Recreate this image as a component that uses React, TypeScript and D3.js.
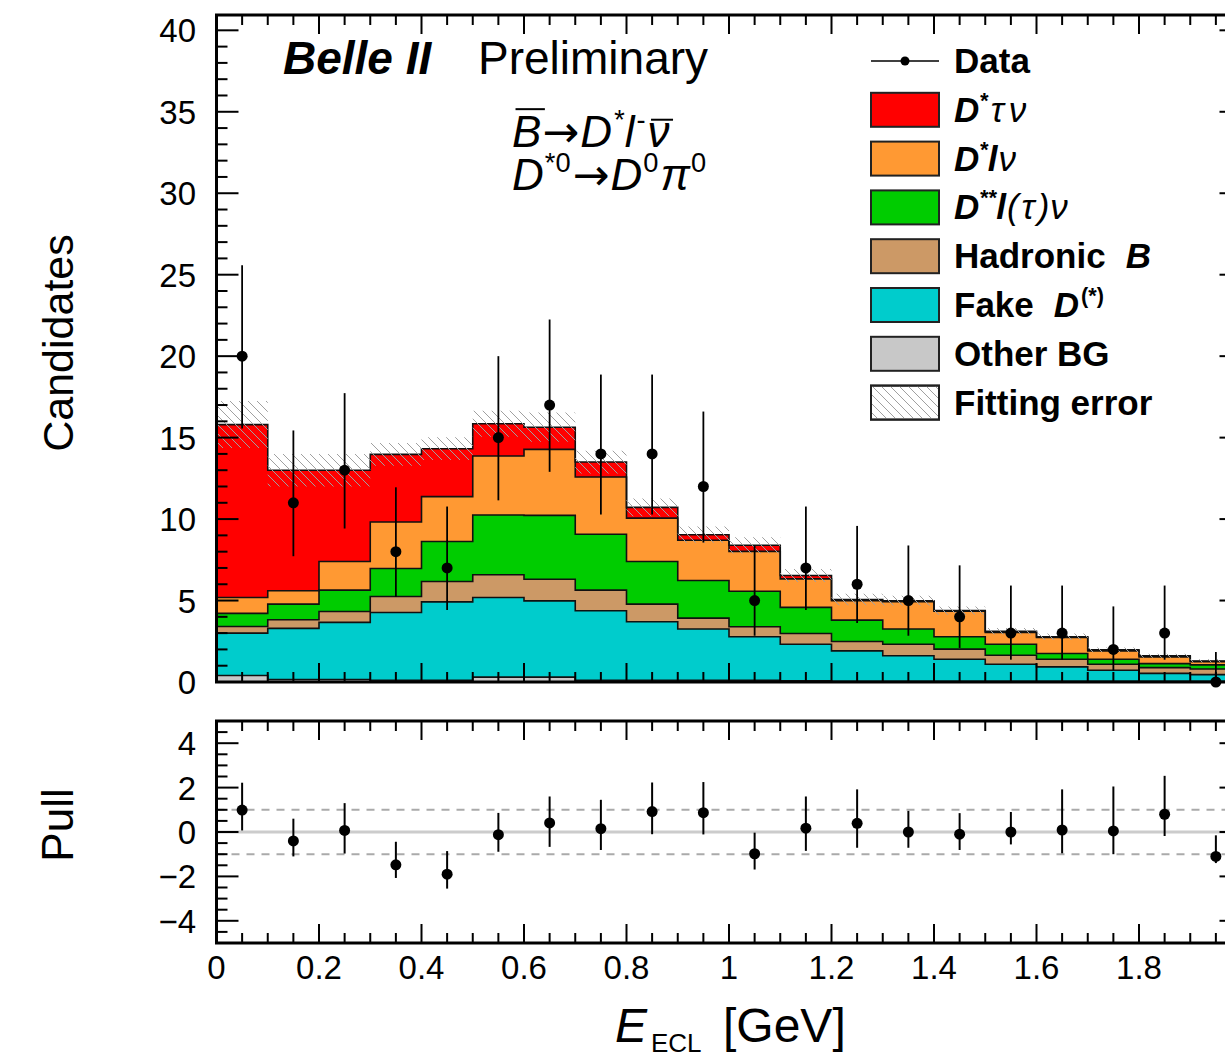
import React, { useEffect, useRef } from 'react';
import * as d3 from 'd3';

// bins of E_ECL [GeV]
const binCenters = [0.05, 0.15, 0.25, 0.35, 0.45, 0.55, 0.65, 0.75, 0.85, 0.95,
  1.05, 1.15, 1.25, 1.35, 1.45, 1.55, 1.65, 1.75, 1.85, 1.95];
const binWidth = 0.1;

// observed candidates and Poisson errors
const dataCounts = [20, 11, 13, 8, 7, 15, 17, 14, 14, 12, 5, 7, 6, 5, 4, 3, 3, 2, 3, 0];
const dataErrLow = [4.44, 3.28, 3.58, 2.77, 2.58, 3.85, 4.1, 3.72, 3.72, 3.44, 2.16, 2.58, 2.38, 2.16, 1.91, 1.63, 1.63, 1.29, 1.63, 0];
const dataErrHigh = [5.58, 4.44, 4.73, 3.95, 3.77, 5.0, 5.25, 4.87, 4.87, 4.6, 3.38, 3.77, 3.58, 3.38, 3.16, 2.92, 2.92, 2.64, 2.92, 1.84];

// fitted components (bottom to top of the stack)
const otherBG = [0.4, 0.15, 0.15, 0.1, 0.1, 0.3, 0.3, 0.1, 0.1, 0.1, 0.1, 0.08, 0.05, 0.05, 0.05, 0.05, 0.05, 0.05, 0.05, 0.05];
const fakeD = [2.6, 3.14, 3.51, 4.17, 4.82, 4.89, 4.68, 4.27, 3.6, 3.15, 2.68, 2.24, 1.86, 1.56, 1.35, 1.04, 0.88, 0.67, 0.48, 0.4];
const hadronicB = [0.41, 0.53, 0.67, 0.98, 1.25, 1.39, 1.33, 1.27, 1.08, 0.67, 0.61, 0.66, 0.58, 0.71, 0.62, 0.55, 0.47, 0.37, 0.35, 0.35];
const dssLnu = [0.8, 0.96, 1.31, 1.72, 2.45, 3.67, 3.92, 3.43, 2.62, 2.31, 2.18, 1.6, 1.31, 0.93, 0.76, 0.68, 0.35, 0.31, 0.25, 0.25];
const dsLnu = [0.98, 0.82, 1.76, 2.85, 2.76, 3.62, 4.05, 3.51, 2.66, 2.47, 2.45, 1.75, 1.19, 1.68, 1.56, 0.72, 0.98, 0.51, 0.41, 0.2];
const dsTaunu = [10.61, 7.4, 5.6, 4.15, 2.94, 1.98, 1.36, 0.92, 0.66, 0.34, 0.37, 0.21, 0.07, 0.06, 0.04, 0.07, 0.05, 0.06, 0.07, 0.04];
const fitErr = [1.44, 1.0, 1.0, 0.7, 0.7, 0.8, 0.9, 0.7, 0.55, 0.5, 0.5, 0.4, 0.35, 0.3, 0.25, 0.2, 0.2, 0.15, 0.12, 0.1];

// pulls
const pullVals = [0.99, -0.4, 0.07, -1.48, -1.9, -0.12, 0.41, 0.15, 0.92, 0.87, -0.98, 0.17, 0.39, 0.0, -0.1, 0.0, 0.09, 0.05, 0.8, -1.1];
const pullErrHigh = [1.23, 1.0, 1.23, 1.04, 1.04, 0.98, 1.19, 1.3, 1.31, 1.38, 0.95, 1.43, 1.53, 0.95, 0.95, 0.9, 1.83, 2.0, 1.73, 0.95];
const pullErrLow = [0.92, 0.7, 1.04, 0.59, 0.65, 0.77, 1.08, 0.96, 1.02, 0.98, 0.71, 1.02, 1.1, 0.71, 0.71, 0.56, 1.05, 1.05, 0.98, 0.3];

const xTickLabels = ['0', '0.2', '0.4', '0.6', '0.8', '1', '1.2', '1.4', '1.6', '1.8'];
const yTickLabels = [0, 5, 10, 15, 20, 25, 30, 35, 40];
const pullTickLabels = [4, 2, 0, -2, -4];

const stackKeys = ['other', 'fake', 'had', 'dss', 'dsl', 'dst'];
const stackColors = ['#c8c8c8', '#00cccc', '#cc9966', '#00cc00', '#ff9933', '#ff0000'];

const W = 1225;
const H = 1059;
const FONT = "'Liberation Sans', Arial, Helvetica, sans-serif";

function rich(g: any, x0: number, yb: number, size: number, segs: any[]) {
  let cx = x0;
  segs.forEach((s) => {
    cx += s.dx || 0;
    const fs = s.sup || s.sub ? size * 0.62 : size;
    const yy = s.sup ? yb - size * 0.4 : s.sub ? yb + size * 0.25 : yb;
    const t = g.append('text')
      .attr('x', cx)
      .attr('y', yy)
      .attr('font-size', fs)
      .attr('font-weight', s.b ? 'bold' : 'normal')
      .attr('font-style', s.i ? 'italic' : 'normal')
      .text(s.t);
    if (s.family) t.attr('font-family', s.family);
    const w = (t.node() as SVGTextElement).getComputedTextLength();
    if (s.over) {
      const oy = yb - size * (s.over === 'low' ? 0.62 : 0.86);
      g.append('line')
        .attr('x1', cx + size * 0.08).attr('x2', cx + w + size * 0.08)
        .attr('y1', oy).attr('y2', oy)
        .attr('stroke', 'black').attr('stroke-width', 2);
    }
    cx += w;
  });
}

function drawChart(el: SVGSVGElement) {
  const svg = d3.select(el);
  svg.selectAll('*').remove();
  const root = svg.append('g').attr('font-family', FONT).attr('fill', 'black');

  const x = d3.scaleLinear().domain([0, 2]).range([216.5, 1241.5]);
  const y = d3.scaleLinear().domain([0, 40.94]).range([682, 15]);
  const yp = d3.scaleLinear().domain([-5, 5]).range([943, 721]);

  const defs = svg.append('defs');
  const pat = defs.append('pattern')
    .attr('id', 'hatch')
    .attr('patternUnits', 'userSpaceOnUse')
    .attr('width', 9).attr('height', 9);
  pat.append('path')
    .attr('d', 'M0,0 L9,9 M-1,8 L1,10 M8,-1 L10,1')
    .attr('stroke', '#a0a0a0')
    .attr('stroke-width', 1);

  const edges = [...binCenters.map((c) => c - binWidth / 2), binCenters[binCenters.length - 1] + binWidth / 2];
  const ext = (arr: any[]) => [...arr, arr[arr.length - 1]];

  const rows = binCenters.map((c, i) => ({
    other: otherBG[i], fake: fakeD[i], had: hadronicB[i], dss: dssLnu[i], dsl: dsLnu[i], dst: dsTaunu[i],
  }));
  const series = d3.stack<any>().keys(stackKeys)(rows);

  const area = d3.area<any>()
    .curve(d3.curveStepAfter)
    .x((d, i) => x(edges[i]))
    .y0((d) => y(d[0]))
    .y1((d) => y(d[1]));
  const topLine = d3.line<any>()
    .curve(d3.curveStepAfter)
    .x((d, i) => x(edges[i]))
    .y((d) => y(d[1]));

  const main = root.append('g');
  series.forEach((s, k) => {
    const pts = ext(s.map((d) => [d[0], d[1]]));
    main.append('path').attr('d', area(pts)).attr('fill', stackColors[k]).attr('stroke', 'none');
  });
  series.forEach((s) => {
    const pts = ext(s.map((d) => [d[0], d[1]]));
    main.append('path').attr('d', topLine(pts)).attr('fill', 'none').attr('stroke', '#111').attr('stroke-width', 1.6);
  });

  // fitting error band
  const totals = series[series.length - 1].map((d) => d[1]);
  const band = ext(totals.map((t, i) => [t - fitErr[i], t + fitErr[i]]));
  main.append('path').attr('d', area(band)).attr('fill', 'url(#hatch)').attr('stroke', 'none');

  // data points
  binCenters.forEach((c, i) => {
    main.append('line')
      .attr('x1', x(c)).attr('x2', x(c))
      .attr('y1', y(dataCounts[i] - dataErrLow[i])).attr('y2', y(dataCounts[i] + dataErrHigh[i]))
      .attr('stroke', 'black').attr('stroke-width', 1.8);
    main.append('circle').attr('cx', x(c)).attr('cy', y(dataCounts[i])).attr('r', 5.5).attr('fill', 'black');
  });

  // pull panel
  const pull = root.append('g');
  pull.append('line')
    .attr('x1', x(0)).attr('x2', x(2)).attr('y1', yp(0)).attr('y2', yp(0))
    .attr('stroke', '#cccccc').attr('stroke-width', 3);
  [-1, 1].forEach((v) => {
    pull.append('line')
      .attr('x1', x(0)).attr('x2', x(2)).attr('y1', yp(v)).attr('y2', yp(v))
      .attr('stroke', '#aaaaaa').attr('stroke-width', 2).attr('stroke-dasharray', '8 7');
  });
  binCenters.forEach((c, i) => {
    pull.append('line')
      .attr('x1', x(c)).attr('x2', x(c))
      .attr('y1', yp(pullVals[i] - pullErrLow[i])).attr('y2', yp(pullVals[i] + pullErrHigh[i]))
      .attr('stroke', 'black').attr('stroke-width', 2);
    pull.append('circle').attr('cx', x(c)).attr('cy', yp(pullVals[i])).attr('r', 5.5).attr('fill', 'black');
  });

  // frames and ticks
  const frame = (yTop: number, yBot: number) => {
    root.append('rect')
      .attr('x', x(0)).attr('y', yTop)
      .attr('width', x(2) - x(0)).attr('height', yBot - yTop)
      .attr('fill', 'none').attr('stroke', 'black').attr('stroke-width', 3);
    d3.range(0, 2.0001, 0.05).forEach((v) => {
      const major = Math.abs(v / 0.2 - Math.round(v / 0.2)) < 1e-6;
      const len = major ? 19 : 10;
      root.append('line').attr('x1', x(v)).attr('x2', x(v)).attr('y1', yBot).attr('y2', yBot - len)
        .attr('stroke', 'black').attr('stroke-width', 2);
      root.append('line').attr('x1', x(v)).attr('x2', x(v)).attr('y1', yTop).attr('y2', yTop + len)
        .attr('stroke', 'black').attr('stroke-width', 2);
    });
  };
  const yTicks = (scale: any, vals: number[], isMajor: (v: number) => boolean) => {
    vals.forEach((v) => {
      const len = isMajor(v) ? 22 : 11;
      root.append('line').attr('x1', x(0)).attr('x2', x(0) + len).attr('y1', scale(v)).attr('y2', scale(v))
        .attr('stroke', 'black').attr('stroke-width', 2);
      root.append('line').attr('x1', x(2)).attr('x2', x(2) - len).attr('y1', scale(v)).attr('y2', scale(v))
        .attr('stroke', 'black').attr('stroke-width', 2);
    });
  };

  frame(15, 682);
  yTicks(y, d3.range(0, 41, 1), (v) => v % 5 === 0);
  frame(721, 943);
  yTicks(yp, d3.range(-5, 5.001, 0.5), (v) => Math.abs(v % 2) < 1e-6);

  // tick labels
  yTickLabels.forEach((v) => {
    root.append('text').attr('x', 196).attr('y', y(v) + 12).attr('text-anchor', 'end')
      .attr('font-size', 33).text(String(v));
  });
  pullTickLabels.forEach((v) => {
    root.append('text').attr('x', 196).attr('y', yp(v) + 12).attr('text-anchor', 'end')
      .attr('font-size', 33).text(v < 0 ? '\u2212' + Math.abs(v) : String(v));
  });
  xTickLabels.forEach((lab) => {
    root.append('text').attr('x', x(+lab)).attr('y', 979).attr('text-anchor', 'middle')
      .attr('font-size', 33).text(lab);
  });

  // axis titles
  root.append('text').attr('transform', 'translate(73,343) rotate(-90)').attr('text-anchor', 'middle')
    .attr('font-size', 43).text('Candidates');
  root.append('text').attr('transform', 'translate(73,825) rotate(-90)').attr('text-anchor', 'middle')
    .attr('font-size', 44).text('Pull');
  root.append('text').attr('x', 615).attr('y', 1042).attr('font-size', 48).attr('font-style', 'italic').text('E');
  root.append('text').attr('x', 651).attr('y', 1052).attr('font-size', 26).text('ECL');
  root.append('text').attr('x', 723).attr('y', 1042).attr('font-size', 48).text('[GeV]');

  // labels
  root.append('text').attr('x', 283).attr('y', 74).attr('font-size', 46)
    .attr('font-weight', 'bold').attr('font-style', 'italic').text('Belle II');
  root.append('text').attr('x', 478).attr('y', 74).attr('font-size', 46).text('Preliminary');
  const arrowFamily = "'DejaVu Sans', sans-serif";
  rich(root, 512, 147, 44, [
    { t: 'B', i: true, over: 'high' }, { t: '\u2192', family: arrowFamily, dx: 1 }, { t: 'D', i: true, dx: 1 },
    { t: '*', i: true, sup: true, dx: 1 }, { t: 'l', i: true, dx: 1 }, { t: '-', sup: true, dx: 2 },
    { t: '\u03bd', i: true, over: 'low', dx: 2 },
  ]);
  rich(root, 512, 190, 44, [
    { t: 'D', i: true }, { t: '*0', sup: true, dx: 1 }, { t: '\u2192', family: arrowFamily, dx: 2 },
    { t: 'D', i: true, dx: 1 }, { t: '0', sup: true, dx: 1 }, { t: '\u03c0', i: true, dx: 2 }, { t: '0', sup: true, dx: 1 },
  ]);

  // legend
  const legend = root.append('g');
  const rowY = (k: number) => 61 + k * 48.8;
  legend.append('line').attr('x1', 871).attr('x2', 939).attr('y1', rowY(0)).attr('y2', rowY(0))
    .attr('stroke', 'black').attr('stroke-width', 1.6);
  legend.append('circle').attr('cx', 905).attr('cy', rowY(0)).attr('r', 4.5).attr('fill', 'black');
  const legendLabels = [
    [{ t: 'Data', b: true }],
    [{ t: 'D', b: true, i: true }, { t: '*', b: true, i: true, sup: true }, { t: '\u03c4', i: true, dx: 3 }, { t: '\u03bd', i: true, dx: 5 }],
    [{ t: 'D', b: true, i: true }, { t: '*', b: true, i: true, sup: true }, { t: 'l', b: true, i: true }, { t: '\u03bd', i: true, dx: 1 }],
    [{ t: 'D', b: true, i: true }, { t: '**', b: true, i: true, sup: true }, { t: 'l', b: true, i: true }, { t: '(', i: true, dx: 1 }, { t: '\u03c4', i: true, dx: 3 }, { t: ')', i: true, dx: 3 }, { t: '\u03bd', i: true, dx: 1 }],
    [{ t: 'Hadronic', b: true }, { t: 'B', b: true, i: true, dx: 20 }],
    [{ t: 'Fake', b: true }, { t: 'D', b: true, i: true, dx: 20 }, { t: '(*)', b: true, sup: true, dx: 2 }],
    [{ t: 'Other BG', b: true }],
    [{ t: 'Fitting error', b: true }],
  ];
  const boxFills = ['#ff0000', '#ff9933', '#00cc00', '#cc9966', '#00cccc', '#c8c8c8', 'url(#hatch)'];
  boxFills.forEach((f, k) => {
    legend.append('rect').attr('x', 871).attr('y', rowY(k + 1) - 17).attr('width', 68).attr('height', 34)
      .attr('fill', f === 'url(#hatch)' ? 'white' : f).attr('stroke', '#222').attr('stroke-width', 2);
    if (f === 'url(#hatch)') {
      legend.append('rect').attr('x', 871).attr('y', rowY(k + 1) - 17).attr('width', 68).attr('height', 34)
        .attr('fill', f).attr('stroke', '#222').attr('stroke-width', 2);
    }
  });
  legendLabels.forEach((segs, k) => {
    rich(legend, 954, rowY(k) + 12, 35, segs);
  });
}

export default function App() {
  const ref = useRef<SVGSVGElement>(null);
  useEffect(() => {
    if (ref.current) drawChart(ref.current);
  }, []);
  return (
    <svg
      ref={ref}
      width={W}
      height={H}
      style={{ position: 'absolute', left: 0, top: 0, background: '#fff', overflow: 'hidden' }}
    />
  );
}
